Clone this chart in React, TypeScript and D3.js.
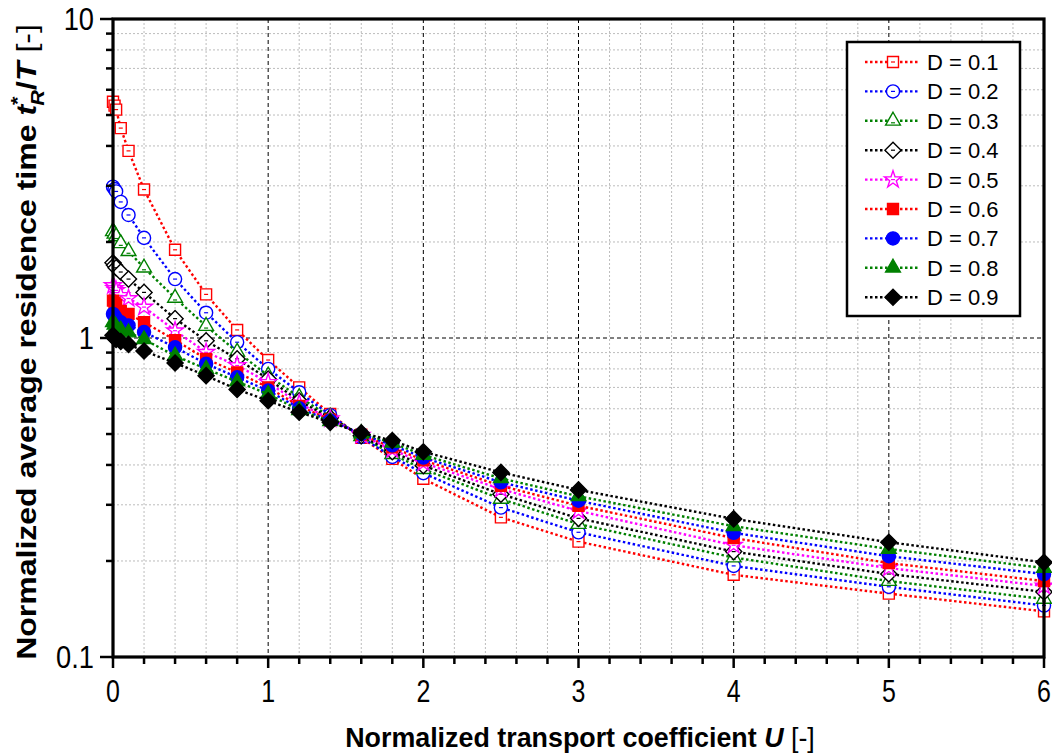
import React, { useRef, useEffect } from 'react';
import * as d3 from 'd3';

// normalized transport coefficient U
const U = [0, 0.01, 0.02, 0.05, 0.1, 0.2, 0.4, 0.6, 0.8, 1.0, 1.2, 1.4, 1.6, 1.8, 2.0, 2.5, 3, 4, 5, 6];

// t*_R / T for each D
const d01 = [5.5, 5.35, 5.2, 4.55, 3.86, 2.92, 1.89, 1.37, 1.06, 0.853, 0.70, 0.578, 0.487, 0.418, 0.362, 0.274, 0.23, 0.181, 0.158, 0.139];
const d02 = [2.98, 2.93, 2.88, 2.67, 2.43, 2.06, 1.53, 1.20, 0.97, 0.80, 0.676, 0.573, 0.489, 0.424, 0.377, 0.294, 0.246, 0.193, 0.166, 0.145];
const d03 = [2.16, 2.12, 2.08, 1.98, 1.87, 1.66, 1.335, 1.09, 0.905, 0.762, 0.652, 0.567, 0.492, 0.432, 0.388, 0.313, 0.261, 0.205, 0.173, 0.152];
const d04 = [1.72, 1.69, 1.66, 1.61, 1.53, 1.39, 1.15, 0.98, 0.86, 0.744, 0.635, 0.562, 0.494, 0.44, 0.398, 0.324, 0.272, 0.214, 0.182, 0.16];
const d05 = [1.46, 1.43, 1.41, 1.36, 1.33, 1.25, 1.054, 0.902, 0.82, 0.726, 0.623, 0.558, 0.496, 0.447, 0.406, 0.336, 0.287, 0.224, 0.19, 0.167];
const d06 = [1.31, 1.29, 1.27, 1.215, 1.19, 1.12, 0.985, 0.86, 0.78, 0.70, 0.612, 0.554, 0.498, 0.454, 0.414, 0.344, 0.298, 0.236, 0.197, 0.173];
const d07 = [1.19, 1.17, 1.15, 1.12, 1.095, 1.044, 0.935, 0.83, 0.753, 0.684, 0.602, 0.551, 0.50, 0.461, 0.422, 0.353, 0.309, 0.245, 0.207, 0.182];
const d08 = [1.12, 1.10, 1.085, 1.06, 1.04, 0.99, 0.88, 0.80, 0.73, 0.667, 0.594, 0.548, 0.502, 0.469, 0.43, 0.363, 0.319, 0.257, 0.218, 0.19];
const d09 = [1.02, 1.0, 0.99, 0.975, 0.955, 0.91, 0.835, 0.762, 0.69, 0.636, 0.585, 0.544, 0.504, 0.477, 0.44, 0.379, 0.334, 0.271, 0.229, 0.198];

const labels = ['D = 0.1', 'D = 0.2', 'D = 0.3', 'D = 0.4', 'D = 0.5', 'D = 0.6', 'D = 0.7', 'D = 0.8', 'D = 0.9'];
const values = [d01, d02, d03, d04, d05, d06, d07, d08, d09];
const colors = ['#ff0000', '#0000ff', '#008000', '#000000', '#ff00ff', '#ff0000', '#0000ff', '#008000', '#000000'];
const shapes = ['square', 'circle', 'triangle', 'diamond', 'star', 'square', 'circle', 'triangle', 'diamond'];
const filled = [false, false, false, false, false, true, true, true, true];

const xTicks = [0, 1, 2, 3, 4, 5, 6];
const yTicks = [0.1, 1, 10];

const W = 1052;
const H = 756;
const FONT = 'Arial, "Liberation Sans", sans-serif';

const symbolPath = (shape: string) => {
  if (shape === 'square') return d3.symbol(d3.symbolSquare, 121)();
  if (shape === 'circle') return d3.symbol(d3.symbolCircle, 135)();
  if (shape === 'triangle') return d3.symbol(d3.symbolTriangle, 95)();
  if (shape === 'diamond') return d3.symbol(d3.symbolSquare, 130)();
  return d3.symbol(d3.symbolStar, 90)();
};

const drawMarker = (g: any, x: number, y: number, i: number) => {
  const m = g.append('g').attr('transform', `translate(${x},${y})`);
  const p = m.append('path')
    .attr('d', symbolPath(shapes[i]))
    .attr('fill', filled[i] ? colors[i] : '#fff')
    .attr('stroke', colors[i])
    .attr('stroke-width', 1.4);
  if (shapes[i] === 'diamond') p.attr('transform', 'rotate(45)');
  if (!filled[i]) {
    m.append('line')
      .attr('x1', -2).attr('x2', 2)
      .attr('y1', shapes[i] === 'triangle' ? 2 : 0).attr('y2', shapes[i] === 'triangle' ? 2 : 0)
      .attr('stroke', colors[i])
      .attr('stroke-width', 1.2);
  }
};

const App = () => {
  const svgRef = useRef<SVGSVGElement>(null);

  useEffect(() => {
    const svg = d3.select(svgRef.current);
    svg.selectAll('*').remove();

    const x = d3.scaleLinear().domain([0, 6]).range([113, 1044]);
    const y = d3.scaleLog().domain([0.1, 10]).range([657, 19]);
    const [x0, x1] = x.range();
    const [y0, y1] = y.range();

    // grid
    const grid = svg.append('g');
    const xMinor = d3.range(0, 30).map(i => i * 0.2).filter(v => Math.abs(v - Math.round(v)) > 1e-6);
    grid.selectAll('.xm').data(xMinor).enter().append('line')
      .attr('x1', d => x(d)).attr('x2', d => x(d))
      .attr('y1', y1).attr('y2', y0)
      .attr('stroke', '#bcbcbc').attr('stroke-width', 1).attr('stroke-dasharray', '2,2');
    const yMinor = [0.1, 1].flatMap(b => d3.range(2, 10).map(k => b * k));
    grid.selectAll('.ym').data(yMinor).enter().append('line')
      .attr('x1', x0).attr('x2', x1)
      .attr('y1', d => y(d)).attr('y2', d => y(d))
      .attr('stroke', '#bcbcbc').attr('stroke-width', 1).attr('stroke-dasharray', '2,2');
    grid.selectAll('.xM').data([1, 2, 3, 4, 5]).enter().append('line')
      .attr('x1', d => x(d)).attr('x2', d => x(d))
      .attr('y1', y1).attr('y2', y0)
      .attr('stroke', '#000').attr('stroke-width', 1).attr('stroke-dasharray', '4,3');
    grid.append('line')
      .attr('x1', x0).attr('x2', x1).attr('y1', y(1)).attr('y2', y(1))
      .attr('stroke', '#000').attr('stroke-width', 1).attr('stroke-dasharray', '4,3');

    // series
    const line = d3.line<number>().x((d, i) => x(U[i])).y(d => y(d));
    values.forEach((vals, i) => {
      const g = svg.append('g');
      g.append('path')
        .attr('d', line(vals))
        .attr('fill', 'none')
        .attr('stroke', colors[i])
        .attr('stroke-width', 2.4)
        .attr('stroke-dasharray', '2.5,2.5');
      vals.forEach((v, j) => drawMarker(g, x(U[j]), y(v), i));
    });

    // frame
    svg.append('rect')
      .attr('x', x0).attr('y', y1).attr('width', x1 - x0).attr('height', y0 - y1)
      .attr('fill', 'none').attr('stroke', '#000').attr('stroke-width', 3.2);

    // x ticks
    const ax = svg.append('g');
    ax.selectAll('.xt').data(d3.range(0, 31).map(i => i * 0.2)).enter().append('line')
      .attr('x1', d => x(d)).attr('x2', d => x(d))
      .attr('y1', y0).attr('y2', d => y0 + (Math.abs(d - Math.round(d)) < 1e-6 ? 11 : 7))
      .attr('stroke', '#000').attr('stroke-width', 2.5);
    ax.selectAll('.xl').data(xTicks).enter().append('text')
      .attr('transform', d => `translate(${x(d)},${y0 + 45}) scale(0.78,1)`)
      .attr('text-anchor', 'middle')
      .attr('font-family', FONT).attr('font-size', 32)
      .text(d => d);

    // y ticks
    const ay = svg.append('g');
    ay.selectAll('.yt').data(yMinor.concat(yTicks)).enter().append('line')
      .attr('x1', x0).attr('x2', d => x0 - (yTicks.includes(d) ? 13 : 7))
      .attr('y1', d => y(d)).attr('y2', d => y(d))
      .attr('stroke', '#000').attr('stroke-width', 2.5);
    ay.selectAll('.yl').data(yTicks).enter().append('text')
      .attr('transform', d => `translate(${x0 - 19},${y(d) + 11}) scale(0.88,1)`)
      .attr('text-anchor', 'end')
      .attr('font-family', FONT).attr('font-size', 31)
      .text(d => String(d));

    // x title
    const xt = svg.append('text')
      .attr('text-anchor', 'middle')
      .attr('font-family', FONT).attr('font-size', 27).attr('font-weight', 'bold');
    xt.append('tspan').text('Normalized transport coefficient ');
    xt.append('tspan').attr('font-style', 'italic').text('U');
    xt.append('tspan').attr('font-weight', 'normal').text(' [-]');
    const xw = (xt.node() as SVGTextElement).getComputedTextLength();
    xt.attr('transform', `translate(580,747) scale(${470 / xw},1)`);

    // y title
    const yt = svg.append('text')
      .attr('text-anchor', 'middle')
      .attr('font-family', FONT).attr('font-size', 28).attr('font-weight', 'bold');
    yt.append('tspan').text('Normalized average residence time ');
    yt.append('tspan').attr('font-style', 'italic').text('t');
    yt.append('tspan').attr('font-size', 19).attr('dy', -12).text('*');
    yt.append('tspan').attr('font-size', 19).attr('font-style', 'italic').attr('dx', -8).attr('dy', 20).text('R');
    yt.append('tspan').attr('dy', -8).text('/');
    yt.append('tspan').attr('font-style', 'italic').text('T');
    yt.append('tspan').attr('font-weight', 'normal').text(' [-]');
    const yw = (yt.node() as SVGTextElement).getComputedTextLength();
    yt.attr('transform', `translate(36,342) rotate(-90) scale(${645 / yw},1)`);

    // legend
    const lg = svg.append('g');
    lg.append('rect')
      .attr('x', 847).attr('y', 42).attr('width', 173).attr('height', 274)
      .attr('fill', '#fff').attr('stroke', '#000').attr('stroke-width', 2.5);
    labels.forEach((lab, i) => {
      const ly = 62 + i * 29.4;
      lg.append('line')
        .attr('x1', 865).attr('x2', 920).attr('y1', ly).attr('y2', ly)
        .attr('stroke', colors[i]).attr('stroke-width', 2.4).attr('stroke-dasharray', '2.5,2.5');
      drawMarker(lg, 893, ly, i);
      lg.append('text')
        .attr('x', 927).attr('y', ly + 8)
        .attr('font-family', FONT).attr('font-size', 22)
        .text(lab);
    });
  }, []);

  return (
    <svg
      ref={svgRef}
      width={W}
      height={H}
      style={{ position: 'absolute', left: 0, top: 0, background: '#fff' }}
    />
  );
};

export default App;
